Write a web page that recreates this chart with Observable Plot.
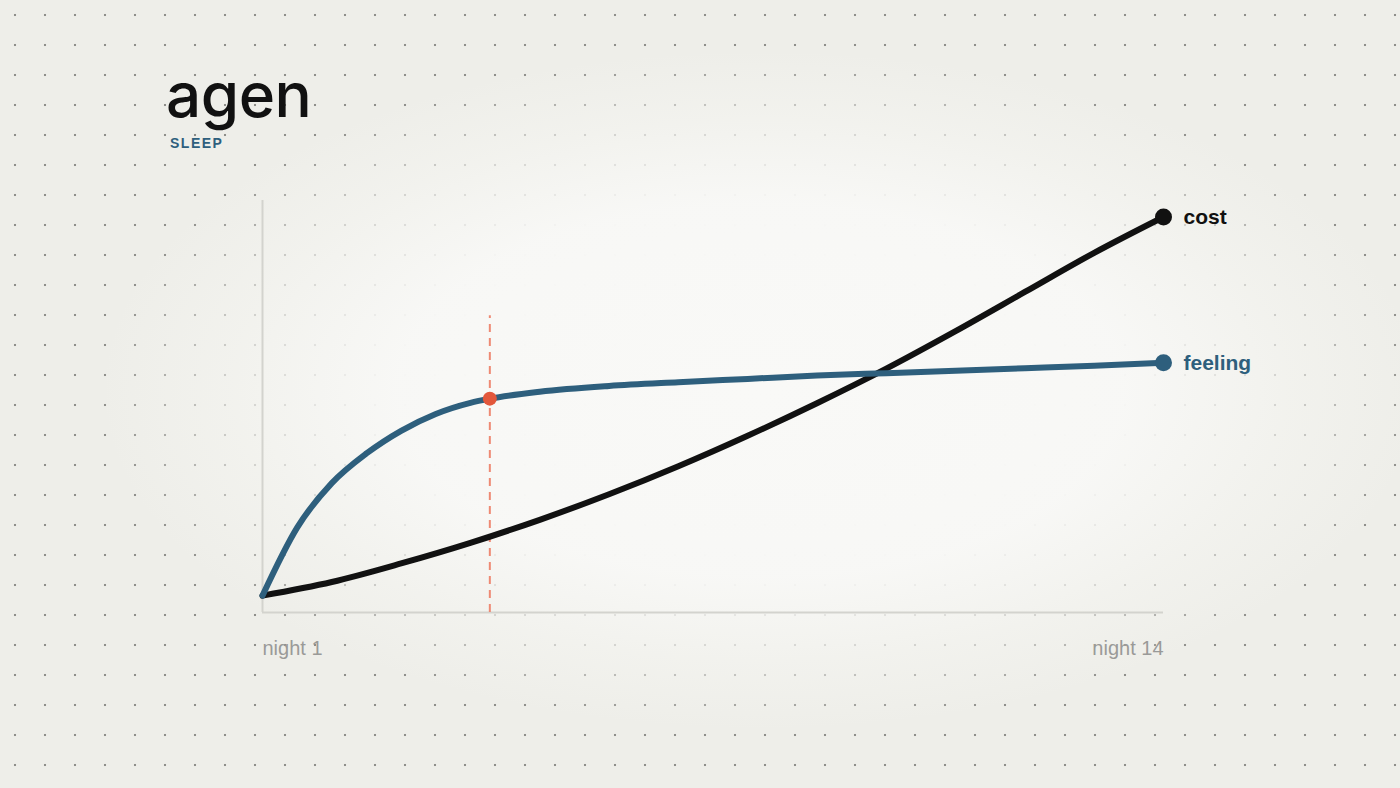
<!DOCTYPE html>
<html>
<head>
<meta charset="utf-8">
<script src="https://cdn.jsdelivr.net/npm/d3@7"></script>
<script src="https://cdn.jsdelivr.net/npm/@observablehq/plot@0.6"></script>
<style>
  html, body { margin: 0; padding: 0; }
  body {
    width: 1400px; height: 788px; overflow: hidden; position: relative;
    background:
      radial-gradient(ellipse 660px 340px at 760px 390px, rgba(249,249,247,1) 0%, rgba(248,248,246,0.98) 55%, rgba(244,244,240,0.65) 80%, rgba(239,239,234,0) 100%),
      radial-gradient(circle at 15px 15px, #8e8e8a 0px, #8e8e8a 1px, rgba(142,142,138,0) 1.6px) 0 0 / 30px 30px,
      #eeeee9;
    font-family: "Liberation Sans", Arial, sans-serif;
  }
  #chart { position: absolute; left: 0; top: 0; }
  #logo { position: absolute; left: 166px; top: 64px; font-family: Inter, "Noto Sans", sans-serif; font-weight: 500; font-size: 62px; letter-spacing: -0.5px; color: #111; line-height: 1; }
  #sub { position: absolute; left: 170px; top: 136px; font-family: "Liberation Sans", Arial, sans-serif; font-weight: 700; font-size: 14px; letter-spacing: 1.5px; color: #2e5f7d; line-height: 1; }
</style>
</head>
<body>
<div id="logo">agen</div>
<div id="sub">SLEEP</div>
<div id="chart"></div>
<script>
// x positions in nights, y values in relative units (0–100)
const costNights = [1,2,3,4,5,6,7,8,9,10,11,12,13,14];
const costValues = [4.1,7.4,11.9,16.9,22.5,28.7,35.5,42.9,50.8,59.2,68.3,77.8,87.3,96.0];

const feelingNights = [1,1.5,2,2.5,3,3.5,4,4.28,5,6,7,8,9,10,11,12,13,14];
const feelingValues = [4.1,20.6,31.4,38.6,44.1,48.2,50.9,51.9,53.6,55.0,55.9,56.7,57.5,58.1,58.7,59.3,59.9,60.6];

const kneeNight = 4.28;
const kneeValue = 51.9;
const kneeLineTop = 72;

const tickNights = [1, 14];
const tickLabels = ["night 1", "night 14"];
const seriesNames = ["cost", "feeling"];

const costColor = "#111111";
const feelingColor = "#2e5f7d";

const cost = costNights.map((n, i) => ({night: n, value: costValues[i]}));
const feeling = feelingNights.map((n, i) => ({night: n, value: feelingValues[i]}));
const costEnd = [cost[cost.length - 1]];
const feelingEnd = [feeling[feeling.length - 1]];

const chart = Plot.plot({
  width: 1400,
  height: 788,
  marginLeft: 262,
  marginRight: 237,
  marginTop: 200,
  marginBottom: 176,
  x: {domain: [1, 14], axis: null},
  y: {domain: [0, 100], axis: null},
  style: {background: "transparent", fontFamily: "'Liberation Sans', Arial, sans-serif", overflow: "visible"},
  marks: [
    Plot.ruleY([0], {stroke: "#d3d3ce", strokeWidth: 2}),
    Plot.ruleX([tickNights[0]], {stroke: "#d3d3ce", strokeWidth: 2}),
    Plot.ruleX([kneeNight], {y1: 0, y2: kneeLineTop, stroke: "#ee8a74", strokeWidth: 2, strokeDasharray: "8,6"}),
    Plot.line(cost, {x: "night", y: "value", stroke: costColor, strokeWidth: 6, curve: "monotone-x", strokeLinecap: "round", strokeLinejoin: "round"}),
    Plot.line(feeling, {x: "night", y: "value", stroke: feelingColor, strokeWidth: 6, curve: "monotone-x", strokeLinecap: "round", strokeLinejoin: "round"}),
    Plot.dot([{night: kneeNight, value: kneeValue}], {x: "night", y: "value", r: 7, fill: "#e2573b", stroke: "none"}),
    Plot.dot(costEnd, {x: "night", y: "value", r: 8.5, fill: costColor, stroke: "none"}),
    Plot.dot(feelingEnd, {x: "night", y: "value", r: 8.5, fill: feelingColor, stroke: "none"}),
    Plot.text(costEnd, {x: "night", y: "value", text: () => seriesNames[0], dx: 20, textAnchor: "start", fill: costColor, fontWeight: "bold", fontSize: 21}),
    Plot.text(feelingEnd, {x: "night", y: "value", text: () => seriesNames[1], dx: 20, textAnchor: "start", fill: feelingColor, fontWeight: "bold", fontSize: 21}),
    Plot.text([tickNights[0]], {x: d => d, frameAnchor: "bottom", dy: 42, text: () => tickLabels[0], textAnchor: "start", fill: "#9a9a98", fontSize: 20}),
    Plot.text([tickNights[1]], {x: d => d, frameAnchor: "bottom", dy: 42, text: () => tickLabels[1], textAnchor: "end", fill: "#9a9a98", fontSize: 20})
  ]
});
document.getElementById("chart").appendChild(chart);
</script>
</body>
</html>
